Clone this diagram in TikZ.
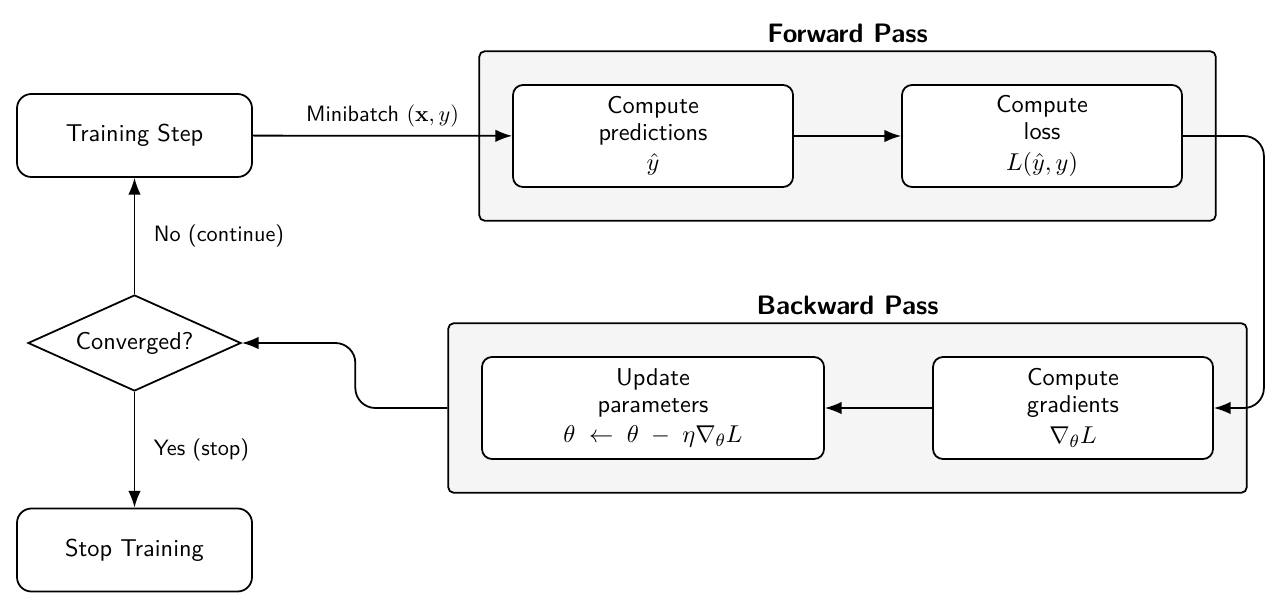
\documentclass[tikz,border=0pt]{standalone}
\usetikzlibrary{shapes.geometric,arrows.meta,fit,backgrounds}
\definecolor{framefill}{HTML}{F5F5F5}
\begin{document}
\begin{tikzpicture}[x=0.45pt,y=-0.45pt,
  every node/.style={font=\sffamily\fontsize{10.95}{12.2}\selectfont},
  term/.style={draw, line width=0.8pt, rounded corners=6.5pt, fill=white, align=center,
    minimum width=105.75pt, minimum height=37.35pt, inner sep=0pt},
  stepbox/.style={draw, line width=0.8pt, rounded corners=4.5pt, fill=white, align=center,
    minimum width=126pt, minimum height=45.9pt, inner sep=0pt},
  decision/.style={draw, line width=0.8pt, diamond, shape aspect=2.2, align=center,
    minimum width=95.85pt, minimum height=43.2pt, inner sep=0pt},
  frame/.style={draw, line width=0.8pt, rounded corners=2.5pt, fill=framefill, inner sep=14.8pt},
  ftitle/.style={font=\sffamily\fontsize{12}{14}\selectfont\bfseries},
  arr/.style={line width=0.8pt, -{Latex[length=7.5pt,width=5.6pt]}},
  lbl/.style={font=\sffamily\fontsize{10}{12}\selectfont}
]
\useasboundingbox (0,0) rectangle (1280,610);

\node[term] (train) at (134.5,135.5) {Training Step};
\node[term] (stop) at (134.5,550) {Stop Training};
\node[decision] (conv) at (134.5,343) {Converged?};

\node[stepbox] (pred) at (653,136) {Compute\\predictions\\[1.5pt]$\hat{y}$};
\node[stepbox] (loss) at (1042,136) {Compute\\loss\\[1.5pt]$L(\hat{y},y)$};
\node[stepbox] (grad) at (1073,408) {Compute\\gradients\\[1.5pt]$\nabla_\theta L$};
\node[stepbox, minimum width=153.9pt] (upd) at (653,408) {Update\\parameters\\[1.5pt]$\theta\;\leftarrow\;\theta\;-\;\eta\nabla_\theta L$};

\begin{scope}[on background layer]
  \node[frame, fit=(pred)(loss), label={[ftitle, inner sep=3pt]above:Forward Pass}] (fw) {};
  \node[frame, fit=(upd)(grad), label={[ftitle, inner sep=3pt]above:Backward Pass}] (bw) {};
\end{scope}

\draw[arr] (train) -- node[lbl, above] {Minibatch $(\mathbf{x},y)$} (pred);
\draw[arr] (pred) -- (loss);
\draw[arr, rounded corners=9pt] (loss.east) -- ++(81,0) |- (grad.east);
\draw[arr] (grad) -- (upd);
\draw[arr, rounded corners=9pt] (bw.west) -- ++(-92,0) |- (conv.east);
\draw[arr] (conv) -- node[lbl, right, xshift=5pt] {No (continue)} (train);
\draw[arr] (conv) -- node[lbl, right, xshift=5pt] {Yes (stop)} (stop);
\end{tikzpicture}
\end{document}
